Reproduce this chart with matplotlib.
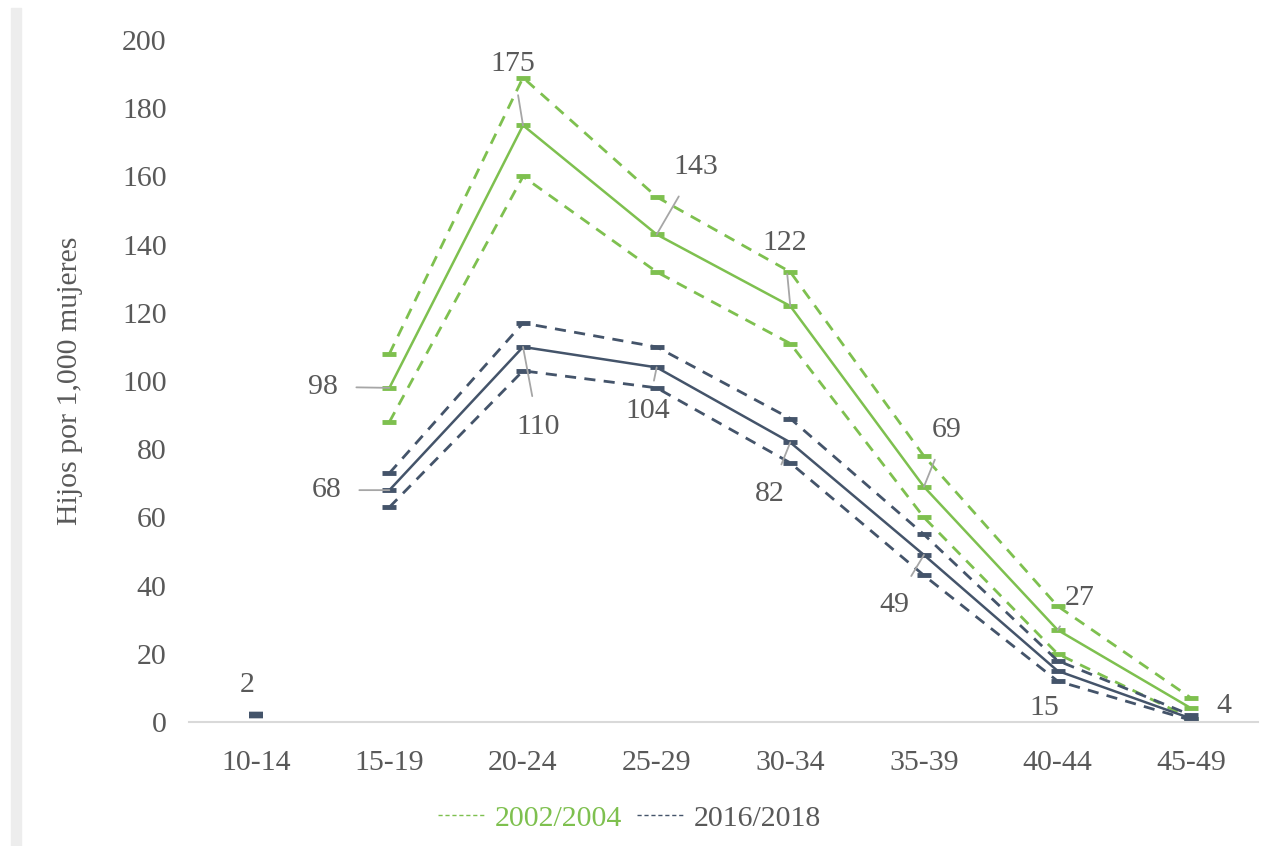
import numpy as np
import matplotlib.pyplot as plt

# Data
grupos = ['10-14', '15-19', '20-24', '25-29', '30-34', '35-39', '40-44', '45-49']

t2002 = [np.nan, 98, 175, 143, 122, 69, 27, 4]
t2002_sup = [np.nan, 108, 189, 154, 132, 78, 34, 7]
t2002_inf = [np.nan, 88, 160, 132, 111, 60, 20, 1]

t2016 = [2, 68, 110, 104, 82, 49, 15, 1]
t2016_sup = [2, 73, 117, 110, 89, 55, 18, 2]
t2016_inf = [2, 63, 103, 98, 76, 43, 12, 0.5]

verde = '#7EC04F'
oscuro = '#44546A'
gris = '#595959'
fs = 21.5

plt.rcParams['font.family'] = ['Liberation Serif', 'DejaVu Serif']

fig = plt.figure(figsize=(12.88, 8.46), dpi=100)
ax = fig.add_axes([0.1467, 0.1466, 0.83, 0.806])

x = np.arange(len(grupos))

def serie(vals, color, ls, lw):
    v = np.array(vals, dtype=float)
    # the first point is isolated from the rest
    ax.plot(x[1:], v[1:], color=color, ls=ls, lw=lw, marker='_', ms=10, mew=3.5,
            dashes=(4, 3) if ls == '--' else (None, None))
    ax.plot(x[:1], v[:1], color=color, marker='_', ms=10, mew=4.5, ls='none')

serie(t2002_sup, verde, '--', 2)
serie(t2002_inf, verde, '--', 2)
serie(t2002, verde, '-', 1.8)
serie(t2016_sup, oscuro, '--', 2)
serie(t2016_inf, oscuro, '--', 2)
serie(t2016, oscuro, '-', 1.8)

# data labels: (series, index, offset in pixels, leader line?)
etiquetas = [
    (t2002, 1, (-66, 1), True),
    (t2016, 1, (-63, 0), True),
    (t2002, 2, (-10, 61), True),
    (t2016, 2, (15, -80), True),
    (t2002, 3, (39, 67), True),
    (t2016, 3, (-9, -44), True),
    (t2002, 4, (-6, 63), True),
    (t2016, 4, (-21, -52), True),
    (t2002, 5, (23, 57), True),
    (t2016, 5, (-30, -50), True),
    (t2002, 6, (22, 32), True),
    (t2016, 6, (-13, -37), False),
    (t2002, 7, (33, 2), False),
    (t2016, 0, (-9, 30), False),
]
for vals, i, off, linea in etiquetas:
    props = dict(arrowstyle='-', color='#A6A6A6', lw=1.3, shrinkA=11, shrinkB=0) if linea else None
    ax.annotate(str(int(vals[i])), xy=(x[i], vals[i]), xytext=off,
                textcoords='offset pixels', ha='center', va='center',
                fontsize=fs, color=gris, arrowprops=props)

ax.set_xlim(-0.5, len(grupos) - 0.5)
ax.set_ylim(0, 200)
ax.set_yticks(np.arange(0, 201, 20))
ax.set_xticks(x)
ax.set_xticklabels(grupos)
ax.tick_params(length=0, labelsize=fs, labelcolor=gris)
ax.tick_params(axis='x', pad=20)
ax.tick_params(axis='y', pad=16)
for s in ['top', 'right', 'left']:
    ax.spines[s].set_visible(False)
ax.spines['bottom'].set_color('#D9D9D9')
ax.spines['bottom'].set_linewidth(1.5)
ax.set_ylabel('Hijos por 1,000 mujeres', fontsize=fs, color=gris, labelpad=28)

h1, = ax.plot([], [], color=verde, ls='--', lw=1, dashes=(3, 2))
h2, = ax.plot([], [], color=oscuro, ls='--', lw=1, dashes=(3, 2))
fig.legend([h1, h2], ['2002/2004', '2016/2018'], loc='center', bbox_to_anchor=(0.489, 0.033),
           ncol=2, frameon=False, fontsize=fs, labelcolor=[verde, gris],
           handlelength=1.6, handletextpad=0.3, columnspacing=0.5)

# light gray band on the left edge
fig.patches.append(plt.Rectangle((0.0085, 0.0), 0.008, 0.99, transform=fig.transFigure,
                                 color='#EDEDED', zorder=0))

fig.savefig('out.png', dpi=100)
